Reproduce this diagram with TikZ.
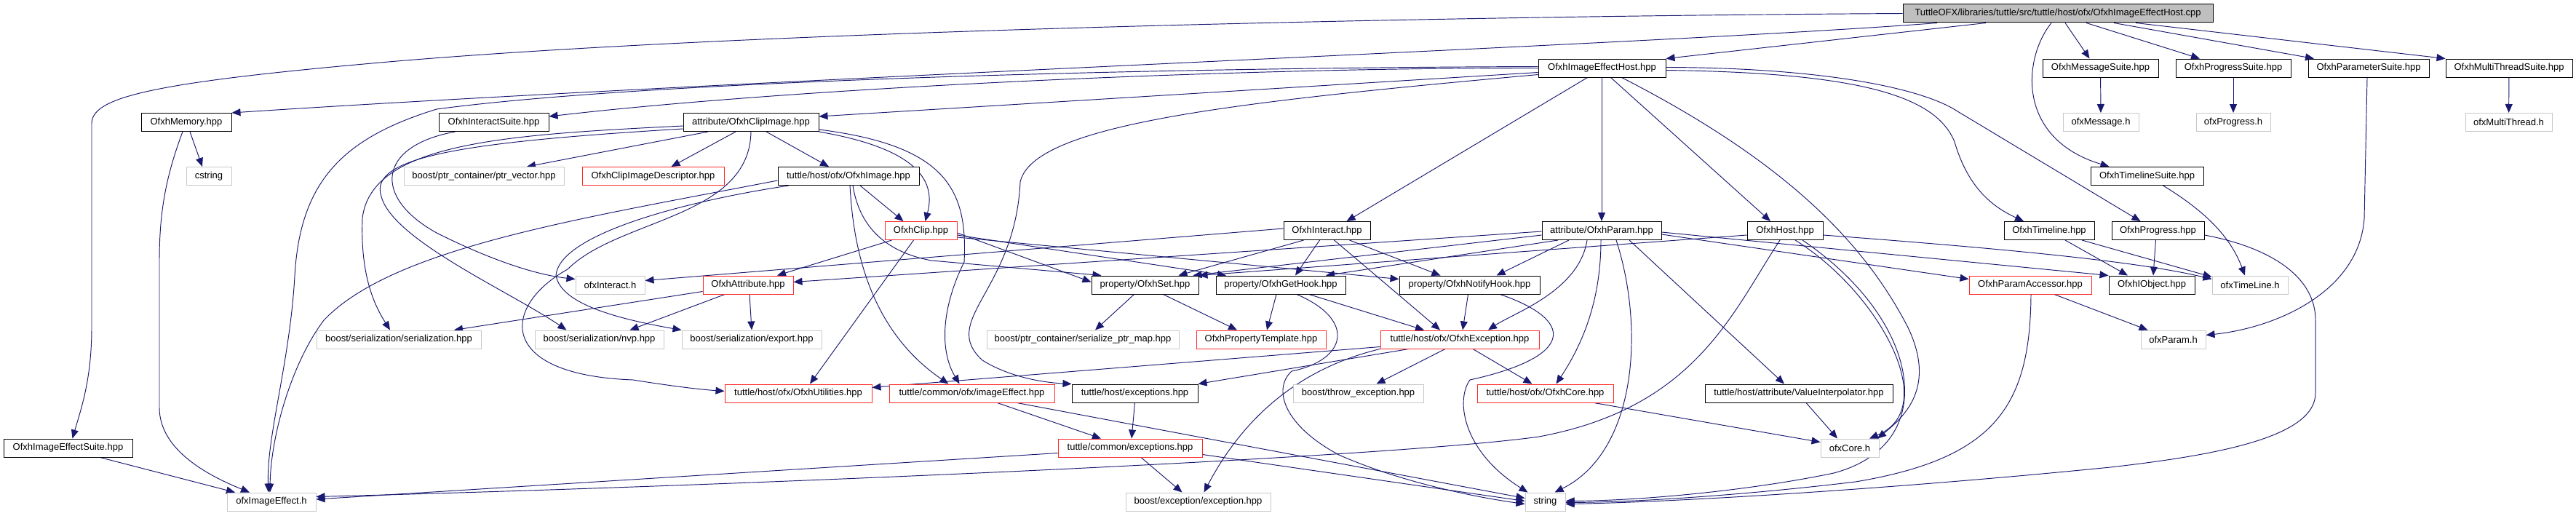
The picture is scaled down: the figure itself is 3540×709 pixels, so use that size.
\documentclass[tikz,border=0pt]{standalone}
\usepackage{fontspec}
\setmainfont{Liberation Sans}
\usetikzlibrary{arrows.meta}
\pgfdeclarelayer{bglayer}
\pgfdeclarelayer{edgelayer}
\pgfsetlayers{bglayer,edgelayer,main}
\definecolor{edgec}{RGB}{25,25,112}
\definecolor{redc}{RGB}{255,40,40}
\definecolor{grayc}{RGB}{200,200,200}
\definecolor{rootfill}{RGB}{191,191,191}
\begin{document}
\begin{tikzpicture}[x=1pt,y=-1pt,
  box/.style={rectangle, minimum height=25pt, inner sep=0pt, line width=1.0pt, font=\fontsize{13pt}{15pt}\selectfont, fill=white},
  doc/.style={box, draw=black},
  trunc/.style={box, draw=redc},
  ext/.style={box, draw=grayc},
  rootn/.style={box, draw=black, fill=rootfill},
  e/.style={draw=edgec, line width=0.95pt, -{Triangle[length=12pt,width=10pt]}},
]
\begin{pgfonlayer}{bglayer}
\fill[white] (0,0) rectangle (3540,709);
\end{pgfonlayer}
\useasboundingbox (0,0) rectangle (3540,709);

% ---------- nodes ----------
\node[rootn, minimum width=426pt] (R) at (2828,18.5) {TuttleOFX/libraries/tuttle/src/tuttle/host/ofx/OfxhImageEffectHost.cpp};
\node[doc, minimum width=175pt] (H) at (2201.5,93.5) {OfxhImageEffectHost.hpp};
\node[doc, minimum width=159pt] (MsgS) at (2886.5,93.5) {OfxhMessageSuite.hpp};
\node[doc, minimum width=158pt] (ProgS) at (3069,93.5) {OfxhProgressSuite.hpp};
\node[doc, minimum width=166pt] (ParS) at (3255,93.5) {OfxhParameterSuite.hpp};
\node[doc, minimum width=174pt] (MTS) at (3448,93.5) {OfxhMultiThreadSuite.hpp};
\node[doc, minimum width=124pt] (Mem) at (256,168) {OfxhMemory.hpp};
\node[doc, minimum width=151pt] (IntS) at (678.5,168) {OfxhInteractSuite.hpp};
\node[doc, minimum width=186pt] (CI) at (1032,168) {attribute/OfxhClipImage.hpp};
\node[ext, minimum width=104pt] (oMsg) at (2887,168) {ofxMessage.h};
\node[ext, minimum width=102pt] (oProg) at (3069,168) {ofxProgress.h};
\node[ext, minimum width=119pt] (oMT) at (3447.5,168) {ofxMultiThread.h};
\node[ext, minimum width=62pt] (cstr) at (287,242) {cstring};
\node[ext, minimum width=220pt] (ptrv) at (665,242) {boost/ptr\_container/ptr\_vector.hpp};
\node[trunc, minimum width=195pt] (CID) at (897.5,242) {OfxhClipImageDescriptor.hpp};
\node[doc, minimum width=194pt] (Img) at (1166,242) {tuttle/host/ofx/OfxhImage.hpp};
\node[doc, minimum width=155pt] (TLS) at (2950.5,242) {OfxhTimelineSuite.hpp};
\node[trunc, minimum width=99pt] (Clip) at (1265.5,317) {OfxhClip.hpp};
\node[doc, minimum width=119pt] (Int) at (1823.5,317) {OfxhInteract.hpp};
\node[doc, minimum width=164pt] (Par) at (2201,317) {attribute/OfxhParam.hpp};
\node[doc, minimum width=104pt] (Host) at (2453,317) {OfxhHost.hpp};
\node[doc, minimum width=124pt] (TL) at (2816,317) {OfxhTimeline.hpp};
\node[doc, minimum width=127pt] (Prog) at (2965.5,317) {OfxhProgress.hpp};
\node[ext, minimum width=95pt] (oInt) at (838.5,391.5) {ofxInteract.h};
\node[trunc, minimum width=124pt] (Attr) at (1028,391.5) {OfxhAttribute.hpp};
\node[doc, minimum width=147pt] (Set) at (1573.5,391.5) {property/OfxhSet.hpp};
\node[doc, minimum width=178pt] (Get) at (1760,391.5) {property/OfxhGetHook.hpp};
\node[doc, minimum width=193pt] (Not) at (2019.5,391.5) {property/OfxhNotifyHook.hpp};
\node[trunc, minimum width=168pt] (PAcc) at (2790,391.5) {OfxhParamAccessor.hpp};
\node[doc, minimum width=118pt] (IObj) at (2957,391.5) {OfxhIObject.hpp};
\node[ext, minimum width=104pt] (oTL) at (3092,391.5) {ofxTimeLine.h};
\node[ext, minimum width=226pt] (ser) at (548,466.5) {boost/serialization/serialization.hpp};
\node[ext, minimum width=177pt] (nvp) at (823.5,466.5) {boost/serialization/nvp.hpp};
\node[ext, minimum width=192pt] (exp) at (1033,466.5) {boost/serialization/export.hpp};
\node[ext, minimum width=264pt] (pmap) at (1488,466.5) {boost/ptr\_container/serialize\_ptr\_map.hpp};
\node[trunc, minimum width=178pt] (PT) at (1733,466.5) {OfxhPropertyTemplate.hpp};
\node[trunc, minimum width=218pt] (Exc) at (2006,466.5) {tuttle/host/ofx/OfxhException.hpp};
\node[ext, minimum width=89pt] (oPar) at (2986.5,466.5) {ofxParam.h};
\node[trunc, minimum width=202pt] (Util) at (1097,540.5) {tuttle/host/ofx/OfxhUtilities.hpp};
\node[trunc, minimum width=227pt] (IE) at (1335.5,540.5) {tuttle/common/ofx/imageEffect.hpp};
\node[doc, minimum width=173pt] (HExc) at (1559.5,540.5) {tuttle/host/exceptions.hpp};
\node[ext, minimum width=179pt] (thr) at (1866.5,540.5) {boost/throw\_exception.hpp};
\node[trunc, minimum width=187pt] (Core) at (2123.5,540.5) {tuttle/host/ofx/OfxhCore.hpp};
\node[doc, minimum width=258pt] (VI) at (2472,540.5) {tuttle/host/attribute/ValueInterpolator.hpp};
\node[doc, minimum width=177pt] (IES) at (93.5,615.5) {OfxhImageEffectSuite.hpp};
\node[trunc, minimum width=198pt] (CExc) at (1553,615.5) {tuttle/common/exceptions.hpp};
\node[ext, minimum width=80pt] (oCore) at (2542,615.5) {ofxCore.h};
\node[ext, minimum width=122pt] (oIE) at (373,689.5) {ofxImageEffect.h};
\node[ext, minimum width=199pt] (bexc) at (1646.5,689.5) {boost/exception/exception.hpp};
\node[ext, minimum width=55pt] (str) at (2123.5,689.5) {string};

% ---------- edges ----------
\begin{pgfonlayer}{edgelayer}
% root
\draw[e] (R.west) .. controls (2000,22) and (1000,42) .. (500,88) .. controls (200,115) and (126,135) .. (126,170) -- (126,450) .. controls (126,520) and (112,560) .. ([xshift=6pt]IES.north);
\draw[e] ([xshift=-166pt]R.south) .. controls (2300,60) and (1000,110) .. (Mem.north east);
\draw[e] ([xshift=-99pt]R.south) -- (H.north east);
\draw[e] ([xshift=10pt]R.south) -- ([xshift=-15pt]MsgS.north);
\draw[e] ([xshift=-9pt]R.south) .. controls (2780,80) and (2770,190) .. ([xshift=-52pt]TLS.north);
\draw[e] ([xshift=39pt]R.south) -- ([xshift=-46pt]ProgS.north);
\draw[e] ([xshift=77pt]R.south) -- ([xshift=-75pt]ParS.north);
\draw[e] ([xshift=107pt]R.south) -- (MTS.north west);
% suites
\draw[e] (MsgS) -- (oMsg);
\draw[e] (ProgS) -- (oProg);
\draw[e] (MTS) -- (oMT);
\draw[e] ([xshift=-2pt]ParS.south) -- (3249,300) .. controls (3242,400) and (3130,450) .. ([yshift=6pt]oPar.east);
\draw[e] ([xshift=22pt]TLS.south) .. controls (3030,290) and (3065,325) .. ([xshift=-7pt]oTL.north);
% memory, image effect suite
\draw[e] ([xshift=5pt]Mem.south) -- ([xshift=-9pt]cstr.north);
\draw[e] ([xshift=-5pt]Mem.south) .. controls (225,250) and (219,300) .. (219,360) -- (219,560) .. controls (219,620) and (290,655) .. ([xshift=-30pt]oIE.north);
\draw[e] ([xshift=44pt]IES.south) -- ([xshift=-50pt]oIE.north);
% image effect host hpp
\draw[e] (H.west) .. controls (1700,93) and (1100,120) .. ([yshift=8pt]IntS.east);
\draw[e] ([yshift=-6pt]H.west) -- ([yshift=8pt]CI.east);
\draw[e] ([yshift=-9pt]H.west) .. controls (1700,140) and (1420,170) .. (1402,250) .. controls (1395,400) and (1290,440) .. (1350,495) .. controls (1390,520) and (1440,526) .. (HExc.north west);
\draw[e] ([yshift=2pt]H.west) .. controls (1600,93) and (900,110) .. (600,150) .. controls (470,190) and (412,250) .. (405,380) .. controls (398,500) and (366,600) .. ([xshift=-4pt]oIE.north);
\draw[e] ([xshift=-20pt]H.south) -- ([xshift=27pt]Int.north);
\draw[e] ([xshift=-0.5pt]H.south) -- (Par.north);
\draw[e] ([xshift=12pt]H.south) -- ([xshift=-20pt]Host.north);
\draw[e] ([xshift=27pt]H.south) .. controls (2450,220) and (2560,330) .. (2622,450) .. controls (2660,530) and (2620,570) .. ([xshift=38pt]oCore.north);
\draw[e] ([yshift=-3pt]H.east) .. controls (2550,100) and (2660,130) .. (2686,195) .. controls (2705,260) and (2740,285) .. ([xshift=-35pt]TL.north);
\draw[e] ([yshift=1pt]H.east) .. controls (2500,93) and (2640,120) .. (2690,153) -- ([xshift=-24pt]Prog.north);
% interact suite
\draw[e] ([xshift=-53pt]IntS.south) .. controls (520,200) and (510,270) .. (600,320) .. controls (680,360) and (740,378) .. ([yshift=8pt]oInt.west);
% clip image
\draw[e] ([xshift=-59pt]CI.south) -- ([xshift=59pt]ptrv.north);
\draw[e] ([xshift=-21pt]CI.south) -- ([xshift=25pt]CID.north);
\draw[e] ([xshift=21pt]CI.south) -- ([xshift=-27pt]Img.north);
\draw[e] (CI.south east) .. controls (1235,200) and (1290,235) .. ([xshift=6pt]Clip.north);
\draw[e] ([yshift=3pt]CI.south east) .. controls (1300,200) and (1330,260) .. (1325,360) .. controls (1295,420) and (1290,480) .. ([xshift=-17pt]IE.north);
\draw[e] ([yshift=-5pt]CI.west) .. controls (700,185) and (510,195) .. (498,300) .. controls (495,380) and (515,420) .. ([xshift=-12pt]ser.north);
\draw[e] ([yshift=-9pt]CI.west) .. controls (640,195) and (505,215) .. (524,270) .. controls (540,330) and (700,400) .. ([xshift=-45pt]nvp.north);
\draw[e] (CI.south) .. controls (1030,300) and (850,300) .. (780,370) .. controls (690,420) and (680,515) .. (870,522) .. controls (920,530) and (960,535) .. ([yshift=3pt]Util.west);
% image
\draw[e] ([xshift=-82pt]Img.south) .. controls (950,275) and (770,320) .. (764,378) .. controls (770,420) and (860,440) .. (exp.north west);
\draw[e] ([yshift=-6pt]Img.west) .. controls (800,300) and (540,340) .. (445,440) .. controls (400,500) and (372,600) .. ([xshift=-2pt]oIE.north);
\draw[e] ([xshift=16pt]Img.south) -- ([xshift=-24pt]Clip.north);
\draw[e] ([xshift=2pt]Img.south) .. controls (1172,330) and (1190,450) .. ([xshift=-32pt]IE.north);
\draw[e] ([xshift=6pt]Img.south) .. controls (1180,305) and (1210,345) .. (1280,358) -- ([xshift=-60pt]Set.north);
% clip
\draw[e] ([xshift=-40pt]Clip.south) -- ([xshift=40pt]Attr.north);
\draw[e] ([xshift=-10pt]Clip.south) -- ([xshift=16pt]Util.north);
\draw[e] ([yshift=-3pt]Clip.east) -- ([yshift=4pt]Set.west);
\draw[e] ([yshift=-6pt]Clip.east) -- ([xshift=-75pt]Get.north);
\draw[e] ([yshift=-9pt]Clip.east) -- ([yshift=8pt]Not.west);
% interact
\draw[e] ([yshift=3pt]Int.west) -- ([yshift=6pt]oInt.east);
\draw[e] ([xshift=-32pt]Int.south) -- ([xshift=46pt]Set.north);
\draw[e] ([xshift=-10pt]Int.south) -- ([xshift=20pt]Get.north);
\draw[e] ([xshift=10pt]Int.south) -- ([xshift=-27pt]Exc.north);
\draw[e] ([xshift=31pt]Int.south) -- ([xshift=-40pt]Not.north);
% param
\draw[e] ([yshift=-1pt]Par.west) -- ([yshift=4pt]Attr.east);
\draw[e] ([yshift=-6pt]Par.west) -- ([xshift=-8pt]Set.north east);
\draw[e] ([xshift=-60pt]Par.south) -- ([xshift=62pt]Get.north);
\draw[e] ([xshift=-45pt]Par.south) -- ([xshift=37pt]Not.north);
\draw[e] ([xshift=-20pt]Par.south) .. controls (2170,400) and (2080,430) .. ([xshift=39pt]Exc.north);
\draw[e] ([xshift=-1pt]Par.south) .. controls (2200,420) and (2170,480) .. ([xshift=15pt]Core.north);
\draw[e] ([xshift=20pt]Par.south) .. controls (2260,450) and (2250,620) .. ([xshift=13pt]str.north);
\draw[e] ([xshift=38pt]Par.south) -- ([xshift=-20pt]VI.north);
\draw[e] ([yshift=-5pt]Par.east) -- ([yshift=8pt]PAcc.west);
\draw[e] ([yshift=-2pt]Par.east) -- (IObj.north west);
% host
\draw[e] ([yshift=-6pt]Host.west) -- (Set.north east);
\draw[e] ([xshift=-7pt]Host.south) .. controls (2380,430) and (2330,560) .. (2115,600) .. controls (1900,630) and (1000,668) .. ([yshift=7pt]oIE.east);
\draw[e] ([xshift=14pt]Host.south) .. controls (2580,400) and (2670,560) .. ([xshift=27pt]oCore.north);
\draw[e] ([xshift=24pt]Host.south) .. controls (2640,440) and (2670,610) .. (2520,650) .. controls (2400,675) and (2250,688) .. ([yshift=1pt]str.east);
\draw[e] ([yshift=-6pt]Host.east) .. controls (2800,345) and (2950,362) .. ([yshift=8pt]oTL.west);
% timeline, progress
\draw[e] ([xshift=22pt]TL.south) -- ([xshift=-33pt]IObj.north);
\draw[e] ([xshift=45pt]TL.south) -- ([yshift=11pt]oTL.west);
\draw[e] ([xshift=-3pt]Prog.south) -- ([xshift=2pt]IObj.north);
\draw[e] ([yshift=-6pt]Prog.east) .. controls (3120,340) and (3182,380) .. (3182,440) -- (3182,540) .. controls (3182,600) and (3050,625) .. (2900,642) .. controls (2600,672) and (2300,690) .. ([yshift=-3pt]str.east);
% param accessor
\draw[e] ([xshift=33pt]PAcc.south) -- ([xshift=-35pt]oPar.north);
\draw[e] ([xshift=1pt]PAcc.south) .. controls (2790,560) and (2740,630) .. (2550,662) .. controls (2400,680) and (2250,690) .. ([yshift=-1pt]str.east);
% attribute
\draw[e] ([yshift=-9pt]Attr.west) -- ([xshift=76pt]ser.north);
\draw[e] ([xshift=-32pt]Attr.south) -- ([xshift=42pt]nvp.north);
\draw[e] ([xshift=2pt]Attr.south) -- (exp.north);
% properties
\draw[e] ([xshift=-15pt]Set.south) -- ([xshift=17pt]pmap.north);
\draw[e] ([xshift=25pt]Set.south) -- ([xshift=-33pt]PT.north);
\draw[e] ([xshift=-6pt]Get.south) -- ([xshift=8pt]PT.north);
\draw[e] ([xshift=39pt]Get.south) -- ([xshift=-49pt]Exc.north);
\draw[e] ([xshift=22pt]Get.south) .. controls (1865,440) and (1850,495) .. (1775,510) .. controls (1748,535) and (1765,585) .. (1840,625) .. controls (1930,665) and (2040,685) .. ([yshift=-3pt]str.west);
\draw[e] ([xshift=-2pt]Not.south) -- ([xshift=4pt]Exc.north);
\draw[e] ([xshift=42pt]Not.south) .. controls (2165,440) and (2165,490) .. (2020,522) .. controls (2000,550) and (2010,620) .. ([xshift=-24pt]str.north);
% exception
\draw[e] ([yshift=-10pt]Exc.west) -- ([yshift=8pt]Util.east);
\draw[e] ([xshift=-70pt]Exc.south) -- (HExc.north east);
\draw[e] (Exc.south west) .. controls (1770,510) and (1700,590) .. ([xshift=8pt]bexc.north);
\draw[e] ([xshift=-20pt]Exc.south) -- ([xshift=25pt]thr.north);
\draw[e] ([xshift=18pt]Exc.south) -- ([xshift=-18pt]Core.north);
% core
\draw[e] ([xshift=67pt]Core.south) -- ([yshift=8pt]oCore.west);
\draw[e] ([xshift=10pt]VI.south) -- ([xshift=-17pt]oCore.north);
% exceptions
\draw[e] ([xshift=35pt]IE.south) -- ([xshift=-40pt]CExc.north);
\draw[e] ([xshift=62pt]IE.south) -- ([yshift=5pt]str.west);
\draw[e] (HExc.south) -- ([xshift=2pt]CExc.north);
\draw[e] ([yshift=-7pt]CExc.west) -- ([yshift=3.5pt]oIE.east);
\draw[e] ([xshift=15pt]CExc.south) -- ([xshift=-22pt]bexc.north);
\draw[e] ([yshift=-9pt]CExc.east) -- ([yshift=1pt]str.west);
\end{pgfonlayer}
\end{tikzpicture}
\end{document}
